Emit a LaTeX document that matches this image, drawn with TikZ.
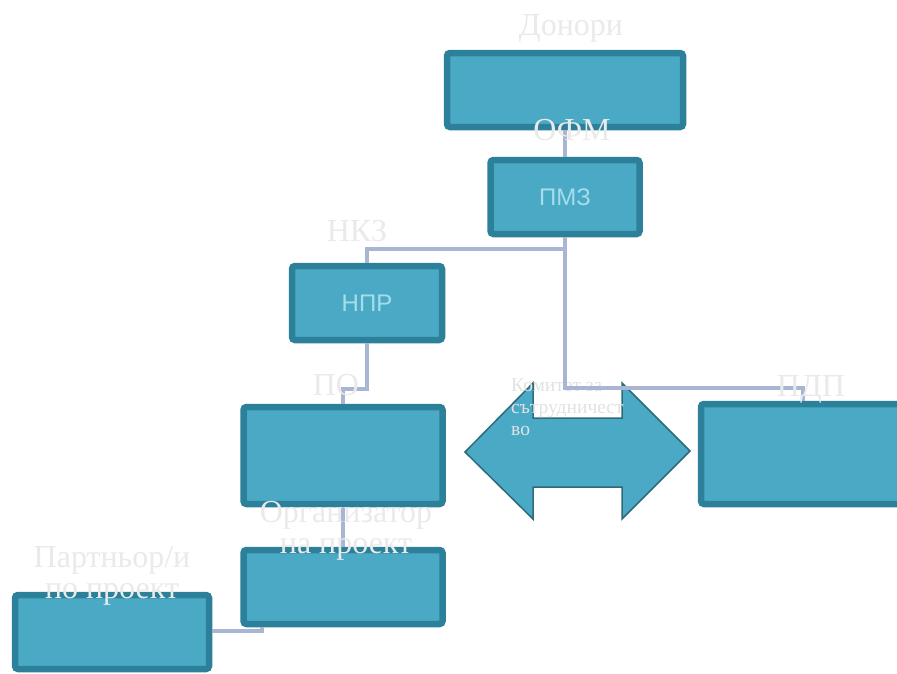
\documentclass[tikz,border=0pt]{standalone}
\usepackage{fontspec}
\setmainfont{Liberation Serif}
\newfontfamily\boxfont{Liberation Sans}
\definecolor{boxfill}{HTML}{4AAAC6}
\definecolor{boxedge}{HTML}{2C8099}
\definecolor{arrowedge}{HTML}{2E6A7A}
\definecolor{linkcol}{HTML}{A8B5D3}
\definecolor{labcol}{HTML}{EAEAEA}
\definecolor{komcol}{HTML}{E2E2E2}
\definecolor{inner}{HTML}{A6DDEA}
\begin{document}
\begin{tikzpicture}[x=1pt,y=-1pt,
  orgbox/.style={draw=boxedge,fill=boxfill,line width=6.5pt,rounded corners=3pt,inner sep=0pt},
  link/.style={draw=linkcol,line width=4pt},
  biglab/.style={text=labcol,font=\fontsize{32}{31}\selectfont,inner sep=0pt,align=center},
  innertext/.style={text=inner,font=\boxfont\fontsize{24}{26}\selectfont,inner sep=0pt}]
\useasboundingbox (0,0) rectangle (897,673);
\fill[white] (0,0) rectangle (897,673);
% arrow
\draw[fill=boxfill,draw=arrowedge,line width=1.5pt,line join=miter]
  (465,452) -- (533,383) -- (533,418) -- (622,418) -- (622,383) -- (690,451)
  -- (622,519) -- (622,487) -- (533,487) -- (533,519) -- cycle;
\node[text=komcol,font=\fontsize{19.5}{22}\selectfont,align=left,anchor=north west,inner sep=0pt] (kom) at (511,379) {Комитет за\\сътрудничест\\во};
% boxes
\node[orgbox,minimum width=236pt,minimum height=74pt] (don) at (565,90) {};
\node[orgbox,minimum width=149pt,minimum height=74pt] (pmz) at (565,197) {};
\node[orgbox,minimum width=150pt,minimum height=74pt] (nrr) at (367,303) {};
\node[orgbox,minimum width=199pt,minimum height=97pt] (po) at (343,455.5) {};
\node[orgbox,minimum width=199pt,minimum height=74pt] (org) at (343,587) {};
\node[orgbox,minimum width=194pt,minimum height=74pt] (par) at (112,632) {};
\node[orgbox,minimum width=204pt,minimum height=100pt] (pdp) at (803,454) {};
% links
\coordinate (j1) at (565,388);
\coordinate (j2) at (565,249);
\coordinate (j3) at (367,389);
\coordinate (j4) at (262,631);
\draw[link] (don.south) -- (pmz.north);
\draw[link] (pmz.south) -- (j1) -| (pdp.north);
\draw[link] (j2) -| (nrr.north);
\draw[link] (nrr.south) -- (j3) -| (po.north);
\draw[link] (po.south) -- (org.north);
\draw[link] (par.east|-j4) -- (j4) -- (j4|-org.south);
% inner texts
\node[innertext] (tpmz) at (pmz.center) {ПМЗ};
\node[innertext] (tnrr) at (nrr.center) {НПР};
% labels
\node[biglab] (ldon) at (571,28) {Донори};
\node[biglab] (lofm) at (572,130) {ОФМ};
\node[biglab] (lnkz) at (357,231) {НКЗ};
\node[biglab] (lpo) at (336,385) {ПО};
\node[biglab] (lpdp) at (811,389) {ПДП};
\node[biglab] (lorg) at (346,531) {Организатор\\на проект};
\node[biglab] (lpar) at (112,576) {Партньор/и\\по проект};
\end{tikzpicture}
\end{document}
